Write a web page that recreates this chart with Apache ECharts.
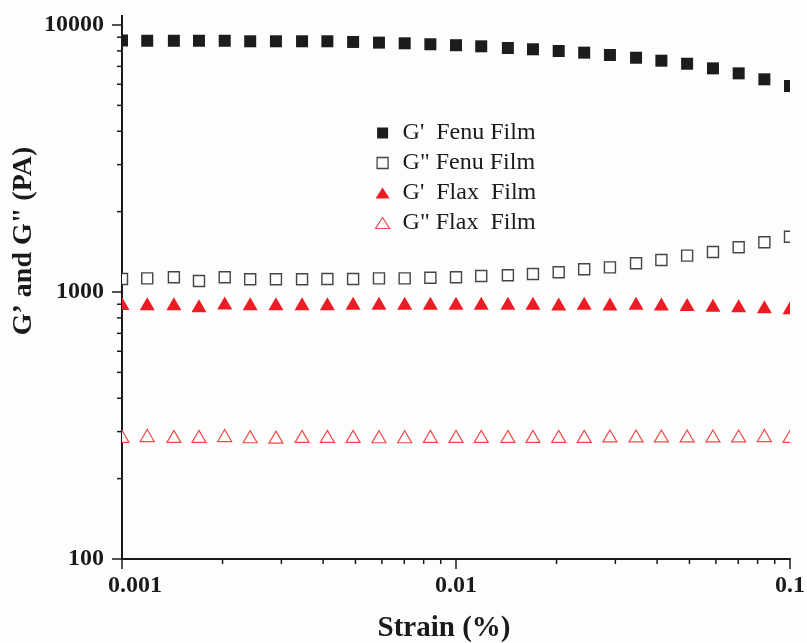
<!DOCTYPE html>
<html>
<head>
<meta charset="utf-8">
<script src="https://cdn.jsdelivr.net/npm/echarts@6/dist/echarts.min.js"></script>
<style>html,body{margin:0;padding:0;background:#fdfdfd;}#chart{width:807px;height:643px;}</style>
</head>
<body>
<div id="chart"></div>
<script>
// Strain (%) values
var strain = [0.001, 0.00119, 0.00143, 0.0017, 0.00203, 0.00242, 0.00289, 0.00346, 0.00412, 0.00492, 0.00588, 0.00702, 0.00838,
  0.01, 0.0119, 0.0143, 0.017, 0.0203, 0.0242, 0.0289, 0.0346, 0.0412, 0.0492, 0.0588, 0.0702, 0.0838, 0.1];
var fenuGp = [8750, 8730, 8730, 8730, 8730, 8690, 8690, 8690, 8690, 8640, 8590, 8540, 8470, 8400, 8320, 8200, 8110, 7990, 7880, 7720, 7540, 7350, 7160, 6880, 6590, 6260, 5910];
var fenuGpp = [1119, 1125, 1135, 1100, 1135, 1116, 1116, 1116, 1119, 1119, 1125, 1125, 1131, 1135, 1148, 1155, 1168, 1185, 1216, 1237, 1281, 1318, 1368, 1412, 1471, 1535, 1611];
var flaxGp = [906, 904, 904, 888, 909, 904, 904, 904, 904, 907, 907, 907, 907, 907, 907, 907, 907, 902, 907, 902, 907, 902, 898, 892, 889, 881, 873];
var flaxGpp = [288, 290, 288, 288, 290, 287, 286, 288, 288, 288, 287, 287, 288, 288, 288, 288, 288, 288, 288, 289, 289, 289, 289, 289, 289, 290, 288];
var seriesNames = ["G'  Fenu Film", 'G" Fenu Film', "G'  Flax  Film", 'G" Flax  Film'];
var xMinorTicks = [0.002, 0.003, 0.004, 0.005, 0.006, 0.007, 0.008, 0.009, 0.02, 0.03, 0.04, 0.05, 0.06, 0.07, 0.08, 0.09];
var yMinorTicks = [200, 300, 400, 500, 600, 700, 800, 900, 2000, 3000, 4000, 5000, 6000, 7000, 8000, 9000];
var xName = 'Strain (%)';
var yName = 'G\u2019 and G" (PA)';

function pairs(xs, ys) { return xs.map(function (x, i) { return [x, ys[i]]; }); }

var FONT = '"Liberation Serif", "Times New Roman", serif';
var BG = '#fdfdfd';
var chart = echarts.init(document.getElementById('chart'));
var axisCol = '#1a1a1a';

var styles = [
  { shape: 'rect', w: 12, h: 12, fill: '#1c1c1c', stroke: null, lw: 0 },
  { shape: 'rect', w: 11, h: 11, fill: BG, stroke: '#454545', lw: 1.4 },
  { shape: 'tri', w: 15, h: 13, fill: '#ec1c24', stroke: null, lw: 0 },
  { shape: 'tri', w: 14, h: 12, fill: BG, stroke: '#f04848', lw: 1.2 }
];

function markSeries(idx, ys) {
  var st = styles[idx];
  return {
    name: seriesNames[idx], type: 'custom', clip: true, z: 3,
    data: pairs(strain, ys),
    itemStyle: { color: st.stroke ? st.stroke : st.fill },
    renderItem: function (params, api) {
      var p = api.coord([api.value(0), api.value(1)]);
      var style = { fill: st.fill, stroke: st.stroke, lineWidth: st.lw };
      if (st.shape === 'rect') {
        return { type: 'rect', shape: { x: p[0] - st.w / 2, y: p[1] - st.h / 2, width: st.w, height: st.h }, style: style };
      }
      return { type: 'polygon', shape: { points: [[p[0], p[1] - st.h / 2], [p[0] + st.w / 2, p[1] + st.h / 2], [p[0] - st.w / 2, p[1] + st.h / 2]] }, style: style };
    }
  };
}

function tickSeries(vals, dir) {
  return {
    type: 'custom', silent: true, clip: false, z: 5,
    data: vals.map(function (v) { return dir === 'x' ? [v, 100] : [0.001, v]; }),
    renderItem: function (params, api) {
      var p = api.coord([api.value(0), api.value(1)]);
      var shape;
      if (dir === 'x') shape = { x1: p[0], y1: p[1], x2: p[0], y2: p[1] + 5 };
      else if (dir === 'y') shape = { x1: p[0] - 5, y1: p[1], x2: p[0], y2: p[1] };
      else shape = { x1: p[0], y1: p[1], x2: p[0], y2: p[1] - 10 };
      return { type: 'line', shape: shape, style: { stroke: axisCol, lineWidth: dir === 'top' ? 2 : 1.5 } };
    }
  };
}

var SQUARE = 'path://M0,0L10,0L10,10L0,10Z';
chart.setOption({
  backgroundColor: BG,
  animation: false,
  grid: { left: 122, right: 17, top: 25, bottom: 84, containLabel: false, outerBoundsMode: 'none' },
  legend: {
    data: [
      { name: seriesNames[0], icon: SQUARE, itemStyle: { color: '#1c1c1c', borderWidth: 0 } },
      { name: seriesNames[1], icon: SQUARE, itemStyle: { color: BG, borderColor: '#454545', borderWidth: 1.3 } },
      { name: seriesNames[2], icon: 'triangle', itemStyle: { color: '#ec1c24', borderWidth: 0 } },
      { name: seriesNames[3], icon: 'triangle', itemStyle: { color: BG, borderColor: '#f04848', borderWidth: 1.2 } }
    ],
    orient: 'vertical',
    left: 370, top: 116,
    itemWidth: 14, itemHeight: 11, itemGap: 6,
    selectedMode: false,
    textStyle: { fontFamily: FONT, fontSize: 24, color: '#1a1a1a', padding: [0, 0, 0, 8] }
  },
  xAxis: {
    type: 'log', logBase: 10, min: 0.001, max: 0.1,
    name: xName, nameLocation: 'middle', nameGap: 55, nameMoveOverlap: false,
    nameTextStyle: { fontFamily: FONT, fontSize: 29, fontWeight: 'bold', color: axisCol, padding: [0, 24, 0, 0] },
    axisLine: { show: true, lineStyle: { color: axisCol, width: 2 } },
    axisTick: { show: true, inside: false, length: 10, lineStyle: { color: axisCol, width: 1.5 } },
    axisLabel: { fontFamily: FONT, fontSize: 24, fontWeight: 'bold', color: axisCol, margin: 15,
      formatter: function (v, i) { return i === 0 ? '{first|' + v + '}' : String(v); },
      rich: { first: { fontFamily: FONT, fontSize: 24, fontWeight: 'bold', color: axisCol, padding: [0, 0, 0, 26] } } },
    splitLine: { show: false }
  },
  yAxis: {
    type: 'log', logBase: 10, min: 100, max: 10000,
    name: yName, nameLocation: 'middle', nameGap: 84, nameMoveOverlap: false,
    nameTextStyle: { fontFamily: FONT, fontSize: 28, fontWeight: 'bold', color: axisCol, padding: [0, 0, 0, 102] },
    axisLine: { show: true, lineStyle: { color: axisCol, width: 2 } },
    axisTick: { show: true, inside: false, length: 10, lineStyle: { color: axisCol, width: 1.5 } },
    axisLabel: { fontFamily: FONT, fontSize: 24, fontWeight: 'bold', color: axisCol, margin: 18,
      formatter: function (v) { return String(Math.round(v)); } },
    splitLine: { show: false }
  },
  series: [
    markSeries(0, fenuGp),
    markSeries(1, fenuGpp),
    markSeries(2, flaxGp),
    markSeries(3, flaxGpp),
    tickSeries(xMinorTicks, 'x'),
    tickSeries(yMinorTicks, 'y'),
    tickSeries([10000], 'top')
  ]
});
</script>
</body>
</html>
